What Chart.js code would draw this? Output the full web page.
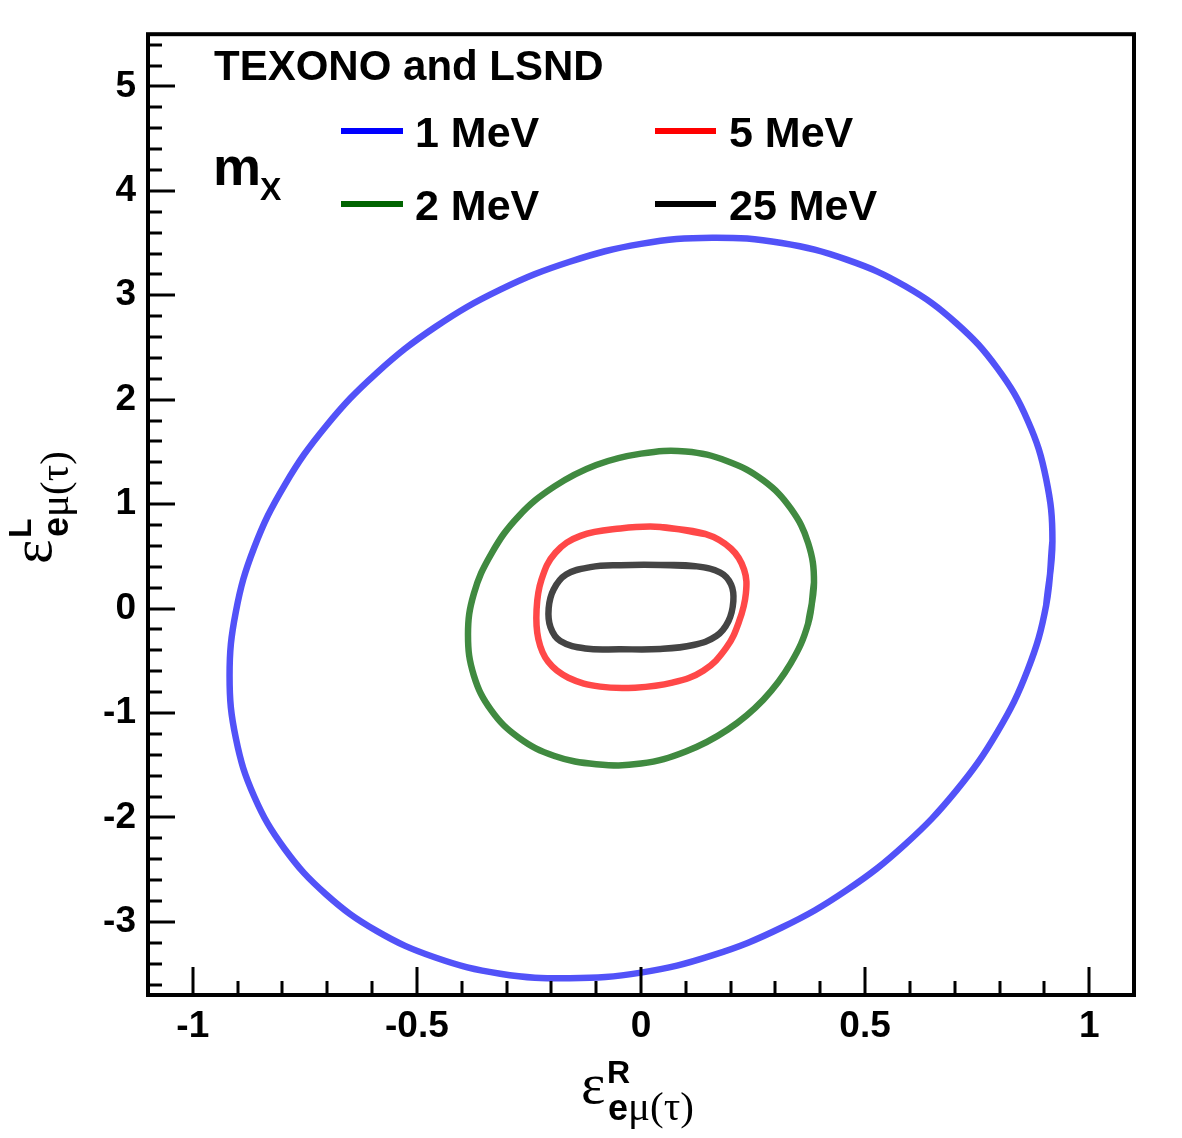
<!DOCTYPE html>
<html><head><meta charset="utf-8">
<script src="https://cdn.jsdelivr.net/npm/chart.js@4.4.0/dist/chart.umd.min.js"></script>
<style>html,body{margin:0;padding:0;background:#fff;}canvas{display:block;}</style>
</head><body>
<canvas id="c" width="1182" height="1138"></canvas>
<script>
// ---- data (each contour is a closed loop) ----
const seriesLabels = ['1 MeV', '2 MeV', '5 MeV', '25 MeV'];

const eR_1MeV = [0.918, 0.904, 0.863, 0.795, 0.703, 0.590, 0.459, 0.314, 0.159, 0.000, -0.159, -0.314, -0.459, -0.590, -0.703, -0.795, -0.863, -0.904,
                 -0.918, -0.904, -0.863, -0.795, -0.703, -0.590, -0.459, -0.314, -0.159, 0.000, 0.159, 0.314, 0.459, 0.590, 0.703, 0.795, 0.863, 0.904];
const eL_1MeV = [0.646, 1.241, 1.799, 2.302, 2.735, 3.086, 3.341, 3.500, 3.552, 3.492, 3.321, 3.054, 2.696, 2.255, 1.746, 1.183, 0.585, -0.031,
                 -0.646, -1.241, -1.799, -2.302, -2.735, -3.086, -3.341, -3.496, -3.540, -3.486, -3.321, -3.054, -2.696, -2.255, -1.746, -1.183, -0.585, 0.031];

const eR_2MeV = [0.386, 0.373, 0.334, 0.273, 0.193, 0.100, 0.000, -0.100, -0.193, -0.273, -0.334, -0.373,
                 -0.386, -0.373, -0.334, -0.273, -0.193, -0.100, 0.000, 0.100, 0.193, 0.273, 0.334, 0.373];
const eL_2MeV = [0.251, 0.627, 0.959, 1.227, 1.411, 1.505, 1.484, 1.375, 1.170, 0.885, 0.525, 0.142,
                 -0.251, -0.640, -0.975, -1.235, -1.411, -1.490, -1.484, -1.368, -1.160, -0.872, -0.525, -0.142];

const eR_5MeV = [0.043, -0.046, -0.135, -0.191, -0.222, -0.233, -0.229, -0.207, -0.162, -0.091, -0.013, 0.070, 0.139, 0.190, 0.219, 0.234, 0.230, 0.201, 0.143];
const eL_5MeV = [0.782, 0.767, 0.696, 0.535, 0.278, -0.007, -0.292, -0.510, -0.662, -0.747, -0.757, -0.709, -0.595, -0.377, -0.121, 0.145, 0.373, 0.573, 0.715];

const eR_25MeV = [0.043, -0.046, -0.113, -0.167, -0.195, -0.206, -0.202, -0.180, -0.124, -0.046, 0.043, 0.117, 0.168, 0.195, 0.206, 0.201, 0.177, 0.121];
const eL_25MeV = [0.418, 0.416, 0.397, 0.326, 0.183, 0.003, -0.178, -0.311, -0.382, -0.389, -0.387, -0.349, -0.263, -0.121, 0.069, 0.231, 0.345, 0.406];

const xTickValues = [-1, -0.5, 0, 0.5, 1];
const yTickValues = [-3, -2, -1, 0, 1, 2, 3, 4, 5];
const xRange = [-1.1, 1.1];
const yRange = [-3.7, 5.5];

// ---- styles ----
const curveColors = ['rgb(82,82,248)', 'rgb(64,138,64)', 'rgb(255,72,72)', 'rgb(68,68,68)'];
const legendColors = ['#0000ff', '#006400', '#ff0000', '#000000'];

// closed loop: prepend the last point and append the first so the spline is smooth at the joint
const toLoop = (xs, ys) => {
  const pts = xs.map((x, i) => ({x: x, y: ys[i]}));
  return [pts[pts.length - 1]].concat(pts, [pts[0]]);
};
const seriesXY = [[eR_1MeV, eL_1MeV], [eR_2MeV, eL_2MeV], [eR_5MeV, eL_5MeV], [eR_25MeV, eL_25MeV]];

const datasets = seriesXY.map((s, i) => ({
  label: seriesLabels[i],
  data: toLoop(s[0], s[1]),
  showLine: true,
  borderColor: curveColors[i],
  backgroundColor: curveColors[i],
  borderWidth: 6.5,
  pointRadius: 0,
  tension: 0.4,
  fill: false,
  borderJoinStyle: 'round',
  borderCapStyle: 'round'
}));

const SANS = "'Liberation Sans', Arial, Helvetica, sans-serif";
const SERIF = "'Liberation Serif', 'Times New Roman', serif";

function drawLabelTitle(ctx, main, sup, subA, subB) {
  ctx.textBaseline = 'alphabetic';
  ctx.textAlign = 'left';
  ctx.fillStyle = '#000';
  ctx.font = '58px ' + SERIF;
  ctx.fillText(main, 0, 0);
  ctx.font = 'bold 32px ' + SANS;
  ctx.fillText(sup, 26, -20);
  ctx.font = 'bold 36px ' + SANS;
  ctx.fillText(subA, 27, 17);
  const w = ctx.measureText(subA).width;
  ctx.font = '41px ' + SERIF;
  ctx.fillText(subB, 27 + w, 17);
}

const decor = {
  id: 'decor',
  afterDraw(chart) {
    const ctx = chart.ctx;
    const a = chart.chartArea;
    const xs = chart.scales.x, ys = chart.scales.y;
    ctx.save();
    ctx.strokeStyle = '#000';
    ctx.lineCap = 'butt';
    // inward ticks
    ctx.lineWidth = 3;
    for (let k = -11; k <= 11; k++) {
      const px = Math.round(xs.getPixelForValue(k / 10));
      const len = (k % 5 === 0) ? 28 : 14;
      ctx.beginPath(); ctx.moveTo(px, a.bottom); ctx.lineTo(px, a.bottom - len); ctx.stroke();
    }
    for (let k = -18; k <= 27; k++) {
      const py = Math.round(ys.getPixelForValue(k / 5));
      const len = (k % 5 === 0) ? 27 : 14;
      ctx.beginPath(); ctx.moveTo(a.left, py); ctx.lineTo(a.left + len, py); ctx.stroke();
    }
    // frame
    ctx.lineWidth = 4;
    ctx.strokeRect(a.left, a.top, a.right - a.left, a.bottom - a.top);

    // header text
    ctx.fillStyle = '#000';
    ctx.textAlign = 'left';
    ctx.textBaseline = 'alphabetic';
    ctx.font = 'bold 42px ' + SANS;
    ctx.fillText('TEXONO and LSND', 214, 80);
    ctx.font = 'bold 54px ' + SANS;
    ctx.fillText('m', 213, 185);
    ctx.font = 'bold 32px ' + SANS;
    ctx.fillText('X', 260, 200);

    // legend
    const items = [
      {i: 0, x0: 341, x1: 403, y: 131, tx: 415, by: 147},
      {i: 2, x0: 655, x1: 716, y: 131, tx: 729, by: 147},
      {i: 1, x0: 341, x1: 403, y: 204, tx: 415, by: 220},
      {i: 3, x0: 655, x1: 716, y: 204, tx: 729, by: 220}
    ];
    items.forEach(it => {
      ctx.strokeStyle = legendColors[it.i];
      ctx.lineWidth = 6;
      ctx.beginPath(); ctx.moveTo(it.x0, it.y); ctx.lineTo(it.x1, it.y); ctx.stroke();
      ctx.fillStyle = '#000';
      ctx.font = 'bold 43px ' + SANS;
      ctx.fillText(chart.data.datasets[it.i].label, it.tx, it.by);
    });

    // axis titles
    ctx.save();
    ctx.translate(581, 1103);
    drawLabelTitle(ctx, '\u03B5', 'R', 'e', '\u03BC(\u03C4)');
    ctx.restore();
    ctx.save();
    ctx.translate(51, 564);
    ctx.rotate(-Math.PI / 2);
    drawLabelTitle(ctx, '\u03B5', 'L', 'e', '\u03BC(\u03C4)');
    ctx.restore();
    ctx.restore();
  }
};

new Chart(document.getElementById('c'), {
  type: 'scatter',
  data: {datasets: datasets},
  options: {
    responsive: false,
    animation: false,
    devicePixelRatio: 1,
    events: [],
    layout: {padding: {left: 0, top: 28, right: 48, bottom: 0}},
    plugins: {legend: {display: false}, tooltip: {enabled: false}, title: {display: false}},
    scales: {
      x: {
        type: 'linear', position: 'bottom', min: xRange[0], max: xRange[1],
        grid: {display: false, drawTicks: false}, border: {display: false},
        afterBuildTicks: s => { s.ticks = xTickValues.map(v => ({value: v})); },
        afterFit: s => { s.height = 143; },
        ticks: {color: '#000', padding: 10, font: {family: SANS, size: 37, weight: 'bold'},
          callback: v => String(v), maxRotation: 0, autoSkip: false}
      },
      y: {
        type: 'linear', position: 'left', min: yRange[0], max: yRange[1],
        grid: {display: false, drawTicks: false}, border: {display: false},
        afterBuildTicks: s => { s.ticks = yTickValues.map(v => ({value: v})); },
        afterFit: s => { s.width = 148; },
        ticks: {color: '#000', padding: 12, font: {family: SANS, size: 37, weight: 'bold'},
          callback: v => String(v), autoSkip: false}
      }
    }
  },
  plugins: [decor]
});
</script>
</body></html>
